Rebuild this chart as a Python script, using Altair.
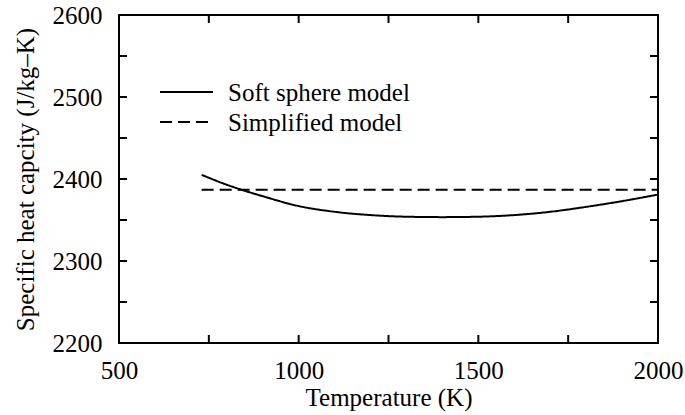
import altair as alt
import pandas as pd

# Specific heat capacity versus temperature for the two models
temps_soft = [730, 800, 840, 900, 1000, 1100, 1200, 1300, 1400, 1500, 1600, 1700, 1800, 1900, 2000]
cp_soft = [2405, 2393, 2387, 2379, 2367, 2360, 2356, 2354, 2353.5, 2354, 2356, 2360, 2366, 2373, 2381]
temps_simple = [730, 2000]
cp_simple = [2387, 2387]

series_names = ["Soft sphere model", "Simplified model"]
series_dashes = [[1, 0], [12, 6]]

x_ticks = [500, 750, 1000, 1250, 1500, 1750, 2000]
y_ticks = [2200, 2250, 2300, 2350, 2400, 2450, 2500, 2550, 2600]
x_labels = [500, 1000, 1500, 2000]
y_labels = [2200, 2300, 2400, 2500, 2600]

W, H = 539, 328
FONT = "Liberation Serif"
FS = 25
TICK = 8

df = pd.concat([
    pd.DataFrame({"T": temps_soft, "cp": cp_soft, "model": series_names[0]}),
    pd.DataFrame({"T": temps_simple, "cp": cp_simple, "model": series_names[1]}),
])

xs = alt.Scale(domain=[500, 2000], nice=False, zero=False)
ys = alt.Scale(domain=[2200, 2600], nice=False, zero=False)

lines = alt.Chart(df).mark_line(strokeWidth=2, color="black", interpolate="monotone").encode(
    x=alt.X("T:Q", scale=xs,
            axis=alt.Axis(values=x_labels, title="Temperature (K)", tickSize=0, domain=False,
                          grid=False, labelFont=FONT, labelFontSize=FS, labelColor="black",
                          labelPadding=15, labelFlush=False, labelOverlap=False,
                          titleFont=FONT, titleFontSize=FS,
                          titleFontWeight="normal", titleColor="black", titlePadding=2,
                          format="d")),
    y=alt.Y("cp:Q", scale=ys,
            axis=alt.Axis(values=y_labels, title="Specific heat capcity (J/kg\u2013K)", tickSize=0,
                          domain=False, grid=False, labelFont=FONT, labelFontSize=FS,
                          labelColor="black", labelPadding=17, labelFlush=False,
                          labelOverlap=False, titleFont=FONT, titleFontSize=25,
                          titleFontWeight="normal", titleColor="black", titlePadding=14,
                          format="d")),
    strokeDash=alt.StrokeDash("model:N",
                              scale=alt.Scale(domain=series_names, range=series_dashes),
                              legend=None),
    detail="model:N",
)

# Inward ticks on all four sides
xt = pd.DataFrame({"T": x_ticks})
yt = pd.DataFrame({"cp": y_ticks})
tick_style = dict(color="black", strokeWidth=2)

bottom_ticks = alt.Chart(xt).mark_rule(**tick_style).encode(
    x=alt.X("T:Q", scale=xs), y=alt.value(H), y2=alt.value(H - TICK))
top_ticks = alt.Chart(xt).mark_rule(**tick_style).encode(
    x=alt.X("T:Q", scale=xs), y=alt.value(0), y2=alt.value(TICK))
left_ticks = alt.Chart(yt).mark_rule(**tick_style).encode(
    y=alt.Y("cp:Q", scale=ys), x=alt.value(0), x2=alt.value(TICK))
right_ticks = alt.Chart(yt).mark_rule(**tick_style).encode(
    y=alt.Y("cp:Q", scale=ys), x=alt.value(W), x2=alt.value(W - TICK))

# Key in the upper-left corner: a line sample and a label per series
LEG_X0, LEG_X1, LEG_TX = 41, 94, 109
LEG_Y0, LEG_ROW = 77, 30
legend_layers = []
for i, (name, dash) in enumerate(zip(series_names, series_dashes)):
    row_y = LEG_Y0 + i * LEG_ROW
    entry = alt.Chart(pd.DataFrame({"model": [name]}))
    legend_layers.append(
        entry.mark_rule(color="black", strokeWidth=2, strokeDash=dash).encode(
            x=alt.value(LEG_X0), x2=alt.value(LEG_X1), y=alt.value(row_y)))
    legend_layers.append(
        entry.mark_text(font=FONT, fontSize=FS, color="black", align="left",
                        baseline="alphabetic").encode(
            x=alt.value(LEG_TX), y=alt.value(row_y + 9), text="model:N"))

chart = alt.layer(lines, bottom_ticks, top_ticks, left_ticks, right_ticks,
                  *legend_layers).properties(
    width=W, height=H,
    autosize=alt.AutoSizeParams(type="none"),
    padding={"left": 119, "top": 15, "right": 685 - 119 - W, "bottom": 415 - 15 - H},
    background="white",
).configure_view(stroke="black", strokeWidth=2)

chart.save("out.html", embed_options={"renderer": "svg", "actions": False})
